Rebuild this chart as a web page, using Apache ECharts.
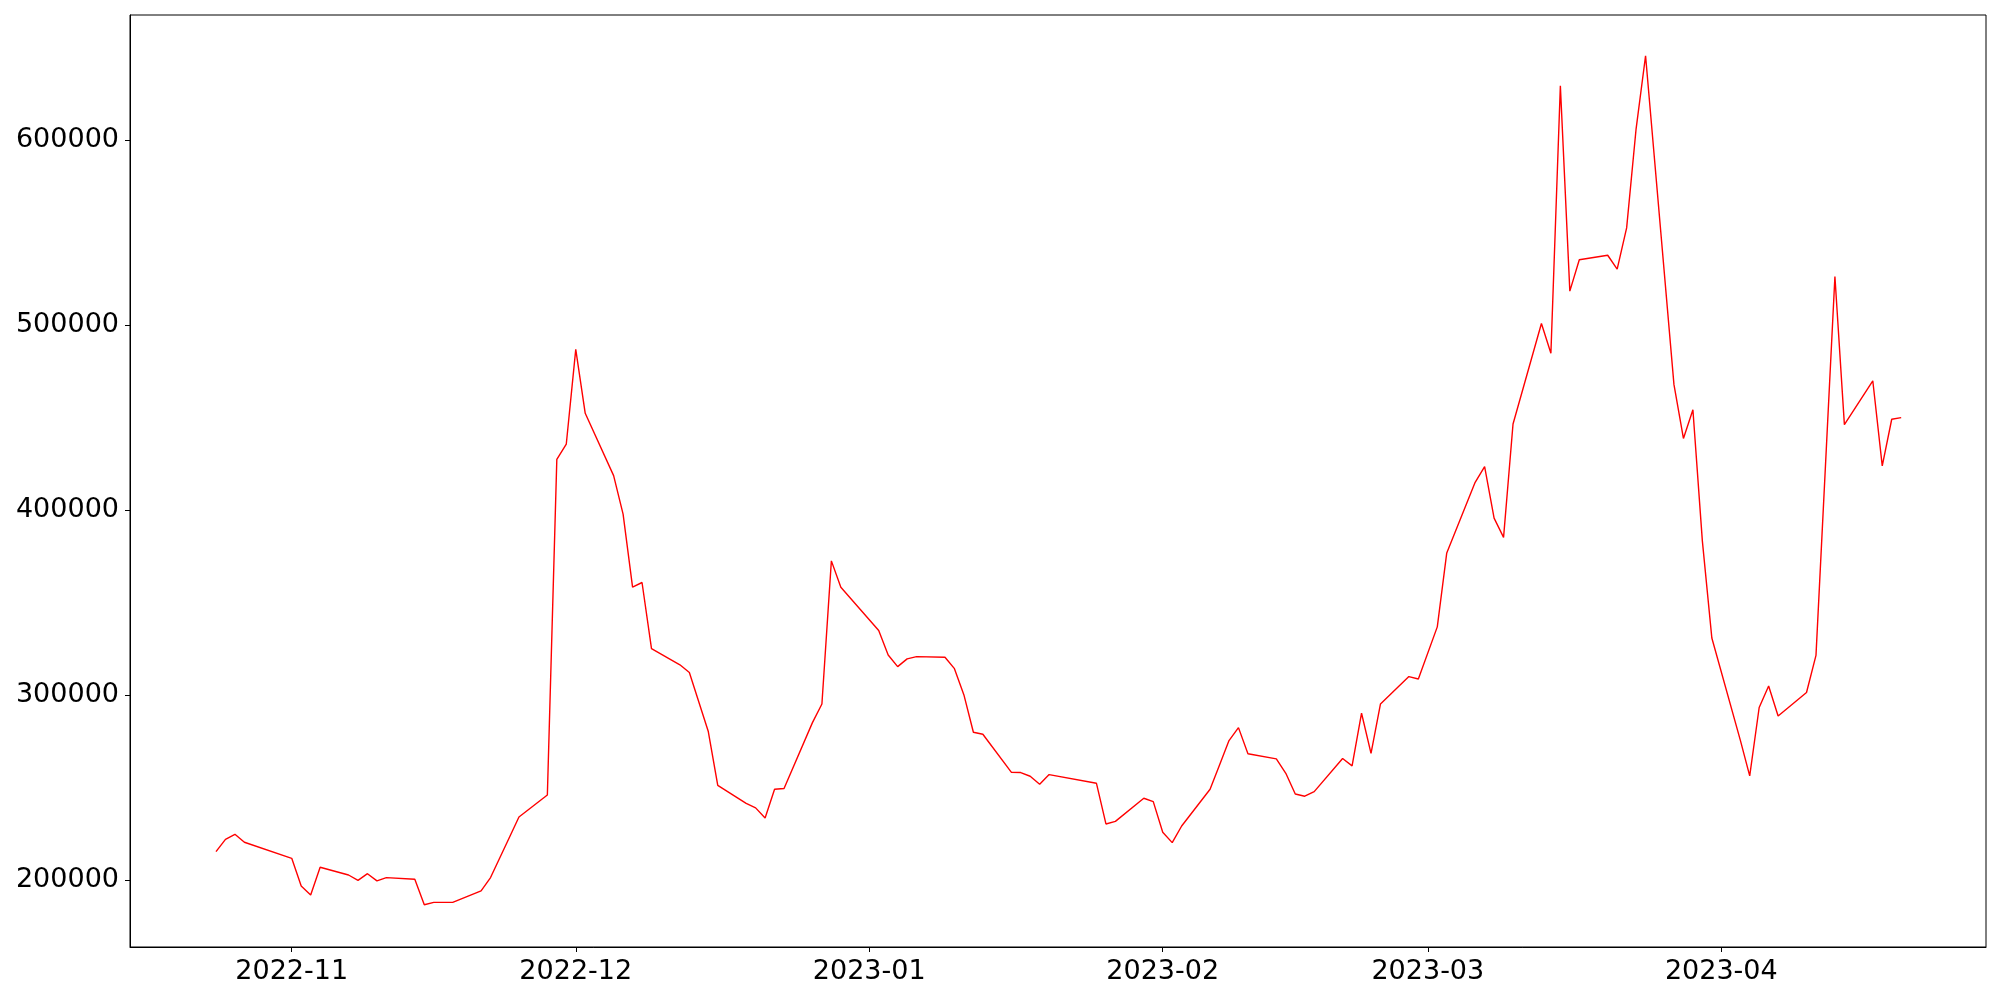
<!DOCTYPE html>
<html>
<head>
<meta charset="utf-8">
<title>chart</title>
<script src="https://cdn.jsdelivr.net/npm/echarts@6/dist/echarts.min.js"></script>
<style>
  html, body { margin: 0; padding: 0; background: #fff; }
  #mycharts { width: 2000px; height: 1000px; }
</style>
</head>
<body>
<div id="mycharts"></div>
<script>
// dates and values
var dates = [
  "2022-10-24", "2022-10-25", "2022-10-26", "2022-10-27",
  "2022-11-01", "2022-11-02", "2022-11-03", "2022-11-04",
  "2022-11-07", "2022-11-08", "2022-11-09", "2022-11-10", "2022-11-11",
  "2022-11-14", "2022-11-15", "2022-11-16", "2022-11-18",
  "2022-11-21", "2022-11-22", "2022-11-24", "2022-11-25",
  "2022-11-28", "2022-11-29", "2022-11-30", "2022-12-01", "2022-12-02",
  "2022-12-05", "2022-12-06", "2022-12-07", "2022-12-08", "2022-12-09",
  "2022-12-12", "2022-12-13", "2022-12-15", "2022-12-16",
  "2022-12-19", "2022-12-20", "2022-12-21", "2022-12-22", "2022-12-23",
  "2022-12-26", "2022-12-27", "2022-12-28", "2022-12-29",
  "2023-01-02", "2023-01-03", "2023-01-04", "2023-01-05", "2023-01-06",
  "2023-01-09", "2023-01-10", "2023-01-11", "2023-01-12", "2023-01-13",
  "2023-01-16", "2023-01-17", "2023-01-18", "2023-01-19", "2023-01-20",
  "2023-01-25", "2023-01-26", "2023-01-27",
  "2023-01-30", "2023-01-31", "2023-02-01", "2023-02-02", "2023-02-03",
  "2023-02-06", "2023-02-07", "2023-02-08", "2023-02-09", "2023-02-10",
  "2023-02-13", "2023-02-14", "2023-02-15", "2023-02-16", "2023-02-17",
  "2023-02-20", "2023-02-21", "2023-02-22", "2023-02-23", "2023-02-24",
  "2023-02-27", "2023-02-28", "2023-03-02", "2023-03-03",
  "2023-03-06", "2023-03-07", "2023-03-08", "2023-03-09", "2023-03-10",
  "2023-03-13", "2023-03-14", "2023-03-15", "2023-03-16", "2023-03-17",
  "2023-03-20", "2023-03-21", "2023-03-22", "2023-03-23", "2023-03-24",
  "2023-03-27", "2023-03-28", "2023-03-29", "2023-03-30", "2023-03-31",
  "2023-04-03", "2023-04-04", "2023-04-05", "2023-04-06", "2023-04-07",
  "2023-04-10", "2023-04-11", "2023-04-13", "2023-04-14",
  "2023-04-17", "2023-04-18", "2023-04-19", "2023-04-20"
];
var values = [
  215300, 222000, 224700, 220400,
  211700, 196700, 191900, 206900,
  202700, 199800, 203400, 199500, 201300,
  200400, 186600, 187900, 187900,
  194100, 201300, 223100, 234100,
  246000, 427500, 435800, 487000, 452400,
  418700, 397900, 358400, 360900, 325100,
  316400, 312200, 280300, 251200,
  241400, 239000, 233500, 249100, 249500,
  285100, 295200, 372600, 358300,
  334900, 321700, 315400, 319600, 320800,
  320500, 314300, 300100, 279900, 278800,
  258300, 258100, 256100, 251800, 257000,
  252300, 230300, 231700,
  244200, 242400, 225800, 220200, 229200,
  249100, 262200, 275400, 282400, 268300,
  265500, 257700, 246500, 245300, 247800,
  265700, 261700, 290200, 268500, 295200,
  310000, 308700, 336900, 376900,
  415100, 423600, 395700, 385300, 446600,
  501000, 484900, 629600, 518500, 535500,
  537900, 530400, 552700, 606300, 645800,
  467900, 438800, 454300, 383300, 330900,
  275800, 256300, 293300, 304900, 288700,
  301400, 321500, 526400, 446300,
  470000, 424000, 449200, 450100
];
var xTicks = ["2022-11-01", "2022-12-01", "2023-01-01", "2023-02-01", "2023-03-01", "2023-04-01"];
var yTicks = [200000, 300000, 400000, 500000, 600000];

function ts(s) {
  var p = s.split("-");
  return Date.UTC(+p[0], +p[1] - 1, +p[2]);
}

var mycharts = echarts.init(document.getElementById("mycharts"));
var xTickValues = xTicks.map(ts);
var font = "DejaVu Sans";

var option = {
  animation: false,
  backgroundColor: "#fff",
  grid: {
    left: 130,
    top: 15,
    right: 14,
    bottom: 53,
    outerBoundsMode: "none",
    show: true,
    borderColor: "#000",
    borderWidth: 1,
    backgroundColor: "transparent"
  },
  xAxis: {
    // dates as epoch ms on a value axis, labelled per month
    type: "value",
    min: ts("2022-10-14") + 22 * 3600 * 1000,
    max: ts("2023-04-28") + 23 * 3600 * 1000,
    splitLine: { show: false },
    axisLine: { show: true, onZero: false, lineStyle: { color: "#000", width: 1 } },
    axisTick: {
      show: true,
      length: 5,
      customValues: xTickValues,
      lineStyle: { color: "#000", width: 1 }
    },
    axisLabel: {
      customValues: xTickValues,
      margin: 11,
      color: "#000",
      fontFamily: font,
      fontSize: 27,
      formatter: function (v) {
        var d = new Date(v);
        var m = d.getUTCMonth() + 1;
        return d.getUTCFullYear() + "-" + (m < 10 ? "0" + m : m);
      }
    }
  },
  yAxis: {
    type: "value",
    min: 163750,
    max: 667850,
    splitLine: { show: false },
    axisLine: { show: true, onZero: false, lineStyle: { color: "#000", width: 1 } },
    axisTick: {
      show: true,
      length: 5,
      customValues: yTicks,
      lineStyle: { color: "#000", width: 1 }
    },
    axisLabel: {
      customValues: yTicks,
      margin: 11,
      color: "#000",
      fontFamily: font,
      fontSize: 27,
      formatter: function (v) { return String(v); }
    }
  },
  series: [
    {
      type: "line",
      showSymbol: false,
      symbol: "none",
      lineStyle: { color: "#ff0000", width: 1.4 },
      data: dates.map(function (d, i) { return [ts(d), values[i]]; })
    }
  ]
};
mycharts.setOption(option);
</script>
</body>
</html>
